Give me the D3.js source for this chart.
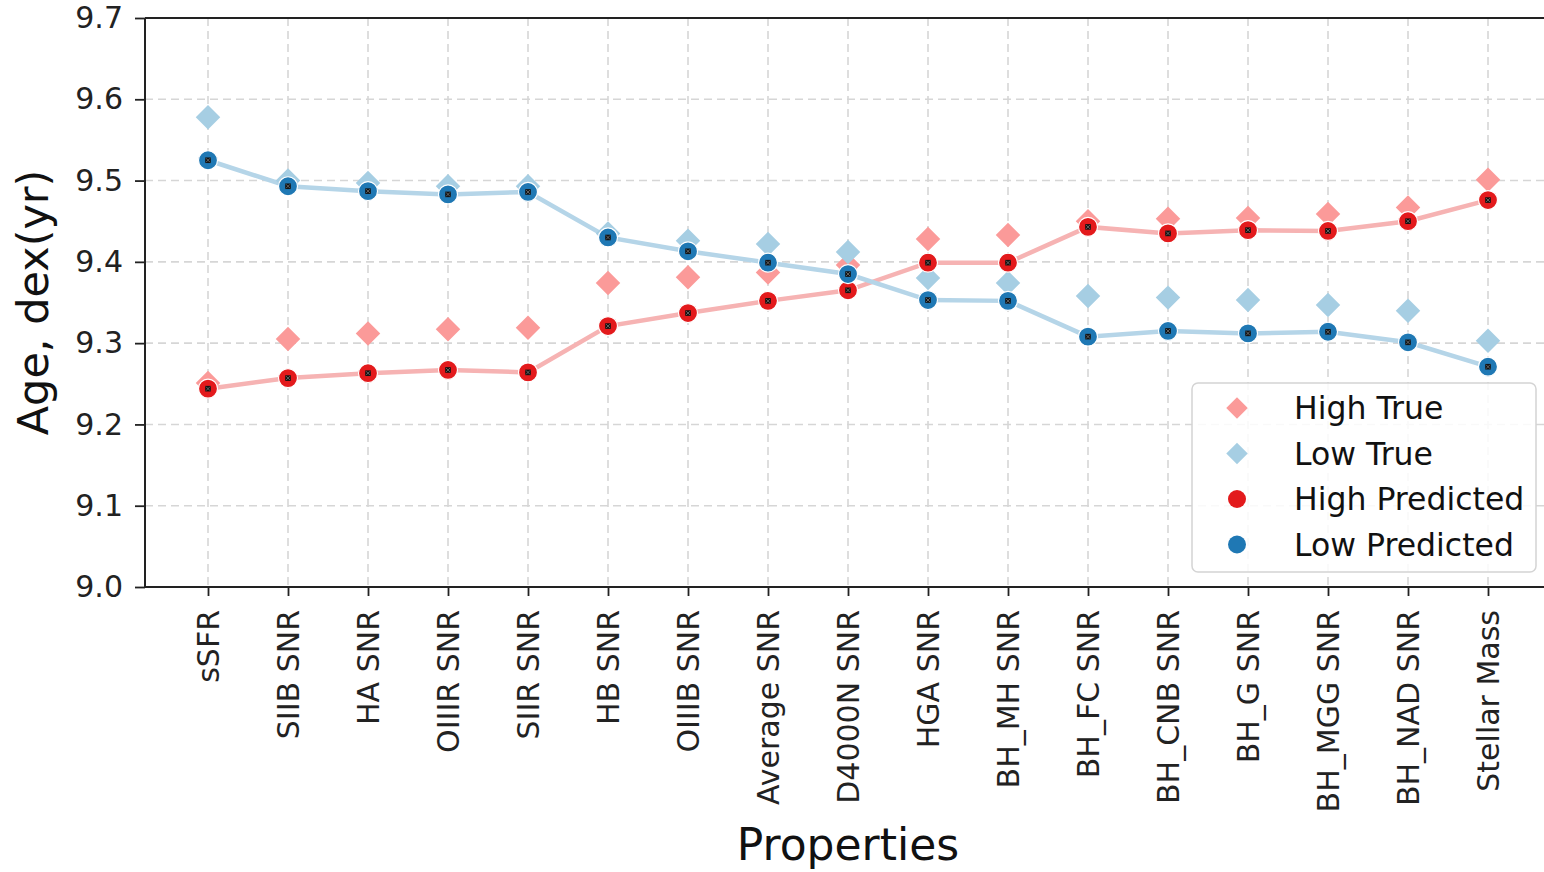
<!DOCTYPE html>
<html>
<head>
<meta charset="utf-8">
<script src="https://cdn.jsdelivr.net/npm/d3@7"></script>
<style>
  html, body { margin: 0; padding: 0; background: #fff; }
  svg { display: block; font-family: "DejaVu Sans", sans-serif; }
</style>
</head>
<body>
<svg id="chart" width="1544" height="872"></svg>
<script>
// Properties on the x axis
const properties = ["sSFR", "SIIB SNR", "HA SNR", "OIIIR SNR", "SIIR SNR", "HB SNR", "OIIIB SNR",
  "Average SNR", "D4000N SNR", "HGA SNR", "BH_MH SNR", "BH_FC SNR", "BH_CNB SNR", "BH_G SNR",
  "BH_MGG SNR", "BH_NAD SNR", "Stellar Mass"];

// Age, dex(yr)
const highTrue = [9.251, 9.305, 9.312, 9.317, 9.319, 9.374, 9.381, 9.387, 9.396, 9.428, 9.433,
  9.450, 9.453, 9.454, 9.459, 9.467, 9.501];
const lowTrue = [9.578, 9.500, 9.497, 9.493, 9.493, 9.435, 9.426, 9.422, 9.412, 9.380, 9.374,
  9.358, 9.356, 9.353, 9.347, 9.340, 9.303];
const highPredicted = [9.244, 9.257, 9.263, 9.267, 9.264, 9.321, 9.337, 9.352, 9.365, 9.399, 9.399,
  9.443, 9.435, 9.439, 9.438, 9.450, 9.476];
const lowPredicted = [9.525, 9.493, 9.487, 9.483, 9.486, 9.430, 9.413, 9.399, 9.385, 9.353, 9.352,
  9.308, 9.315, 9.312, 9.314, 9.301, 9.271];

const yTicks = [9.0, 9.1, 9.2, 9.3, 9.4, 9.5, 9.6, 9.7];

const colors = {
  highTrue: "#fb9a99",
  lowTrue: "#a6cee3",
  highPred: "#e31a1c",
  lowPred: "#1f78b4",
  highLine: "#f6b3b3",
  lowLine: "#b5d5e8"
};

const svg = d3.select("#chart");
const plotLeft = 145, plotTop = 18, plotBottom = 587;
const step = 80;
const plotRight = plotLeft + (properties.length - 1) * step + 2 * 63; // frame extends past the view

const x = d3.scalePoint().domain(properties).range([plotLeft + 63, plotRight - 63]);
const y = d3.scaleLinear().domain([9.0, 9.7]).range([plotBottom, plotTop]);

// grid
const grid = svg.append("g").attr("stroke", "#d6d6d6").attr("stroke-width", 1.6)
  .attr("stroke-dasharray", "8,5");
grid.selectAll("line.h").data(yTicks.slice(1)).join("line")
  .attr("x1", plotLeft).attr("x2", plotRight)
  .attr("y1", d => y(d)).attr("y2", d => y(d));
grid.selectAll("line.v").data(properties).join("line")
  .attr("x1", d => x(d)).attr("x2", d => x(d))
  .attr("y1", plotTop).attr("y2", plotBottom);

// connecting lines for predictions
const line = d3.line().x((d, i) => x(properties[i])).y(d => y(d));
svg.append("path").datum(highPredicted).attr("d", line)
  .attr("fill", "none").attr("stroke", colors.highLine).attr("stroke-width", 4.5);
svg.append("path").datum(lowPredicted).attr("d", line)
  .attr("fill", "none").attr("stroke", colors.lowLine).attr("stroke-width", 4.5);

// diamonds for true values
const diamond = d3.symbol().type(d3.symbolSquare).size(300)();
function drawDiamonds(vals, color) {
  svg.append("g").selectAll("path").data(vals).join("path")
    .attr("d", diamond)
    .attr("transform", (d, i) => `translate(${x(properties[i])},${y(d)}) rotate(45)`)
    .attr("fill", color);
}
drawDiamonds(highTrue, colors.highTrue);
drawDiamonds(lowTrue, colors.lowTrue);

// circles for predicted values, with a small black centre mark
function drawCircles(vals, color) {
  const g = svg.append("g").selectAll("g").data(vals).join("g")
    .attr("transform", (d, i) => `translate(${x(properties[i])},${y(d)})`);
  g.append("circle").attr("r", 9.5).attr("fill", color).attr("stroke", "#fff").attr("stroke-width", 1.2);
  g.append("rect").attr("x", -2.8).attr("y", -2.8).attr("width", 5.6).attr("height", 5.6).attr("fill", "#111");
  g.append("path").attr("d", "M-2,-2L2,2M2,-2L-2,2").attr("stroke", "#777").attr("stroke-width", 0.8);
}
drawCircles(highPredicted, colors.highPred);
drawCircles(lowPredicted, colors.lowPred);

// axes
const yAxis = d3.axisLeft(y).tickValues(yTicks).tickFormat(d3.format(".1f")).tickSize(10).tickPadding(12);
const gy = svg.append("g").attr("transform", `translate(${plotLeft},0)`).call(yAxis);
gy.select(".domain").remove();
gy.selectAll(".tick line").attr("stroke", "#222").attr("stroke-width", 1.8);
gy.selectAll(".tick text").attr("font-size", 30).attr("fill", "#222")
  .attr("font-family", "DejaVu Sans");

const xAxis = d3.axisBottom(x).tickSize(9).tickPadding(10);
const gx = svg.append("g").attr("transform", `translate(0,${plotBottom})`).call(xAxis);
gx.select(".domain").remove();
gx.selectAll(".tick line").attr("stroke", "#222").attr("stroke-width", 1.8);
gx.selectAll(".tick text")
  .attr("font-size", 30).attr("fill", "#222").attr("font-family", "DejaVu Sans")
  .attr("text-anchor", "end").attr("dy", "0.35em")
  .attr("transform", "translate(0,23) rotate(-90)")
  .attr("x", 0).attr("y", 0);

// frame
svg.append("g").attr("stroke", "#222").attr("stroke-width", 2).attr("fill", "none")
  .call(g => {
    g.append("line").attr("x1", plotLeft).attr("x2", plotLeft).attr("y1", plotTop).attr("y2", plotBottom);
    g.append("line").attr("x1", plotLeft).attr("x2", plotRight).attr("y1", plotTop).attr("y2", plotTop);
    g.append("line").attr("x1", plotLeft).attr("x2", plotRight).attr("y1", plotBottom).attr("y2", plotBottom);
    g.append("line").attr("x1", plotRight).attr("x2", plotRight).attr("y1", plotTop).attr("y2", plotBottom);
  });

// axis titles
svg.append("text").attr("transform", `translate(48,${(plotTop + plotBottom) / 2}) rotate(-90)`)
  .attr("text-anchor", "middle").attr("font-size", 43).attr("fill", "#111")
  .text("Age, dex(yr)");
svg.append("text").attr("x", 848).attr("y", 860)
  .attr("text-anchor", "middle").attr("font-size", 44).attr("fill", "#111")
  .text("Properties");

// legend
const legendItems = [
  { label: "High True", color: colors.highTrue, shape: "diamond" },
  { label: "Low True", color: colors.lowTrue, shape: "diamond" },
  { label: "High Predicted", color: colors.highPred, shape: "circle" },
  { label: "Low Predicted", color: colors.lowPred, shape: "circle" }
];
const lg = svg.append("g").attr("transform", "translate(1192,383)");
lg.append("rect").attr("width", 344).attr("height", 189).attr("rx", 6)
  .attr("fill", "rgba(255,255,255,0.85)").attr("stroke", "#d4d4d4").attr("stroke-width", 1.5);
const li = lg.selectAll("g.item").data(legendItems).join("g")
  .attr("transform", (d, i) => `translate(0,${25 + i * 45.5})`);
li.filter(d => d.shape === "diamond").append("path")
  .attr("d", d3.symbol().type(d3.symbolSquare).size(230)())
  .attr("transform", "translate(45,0) rotate(45)")
  .attr("fill", d => d.color);
li.filter(d => d.shape === "circle").append("circle")
  .attr("cx", 45).attr("r", 9).attr("fill", d => d.color);
li.append("text").attr("x", 102).attr("dy", "0.35em")
  .attr("font-size", 31.5).attr("fill", "#111").text(d => d.label);
</script>
</body>
</html>
